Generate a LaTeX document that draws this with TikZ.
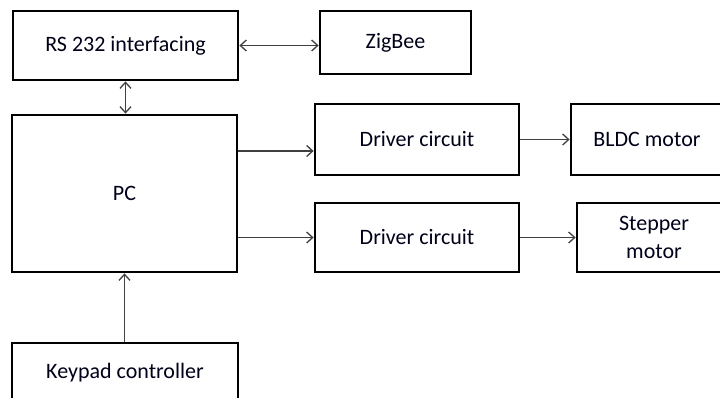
\documentclass[tikz,border=0pt]{standalone}
\usepackage{fontspec}
\setmainfont{Carlito}
\usetikzlibrary{arrows.meta,calc}
\begin{document}
\begin{tikzpicture}[x=1pt,y=-1pt,
  box/.style={draw=black,line width=2.8pt,inner sep=0pt,align=center,
    font=\fontsize{22}{28}\selectfont,text=black!90!blue},
  arr/.style={draw=black!75,line width=1.3pt,-{Straight Barb[length=6pt,width=11pt]}},
  darr/.style={draw=black!75,line width=1.3pt,{Straight Barb[length=6pt,width=11pt]}-{Straight Barb[length=6pt,width=11pt]}}]
\useasboundingbox (0,0) rectangle (720,397);
\begin{scope}
\clip (0,0) rectangle (720,397);
\node[box,minimum width=225pt,minimum height=69pt] (rs) at (125.5,45.5) {RS 232 interfacing};
\node[box,minimum width=151pt,minimum height=63pt] (zig) at (395.5,42.5) {ZigBee};
\node[box,minimum width=225pt,minimum height=157pt] (pc) at (124.5,193.5) {PC};
\node[box,minimum width=226pt,minimum height=60pt] (key) at (125,373) {Keypad controller};
\node[box,minimum width=204pt,minimum height=71pt] (d1) at (417,139.5) {Driver circuit};
\node[box,minimum width=152pt,minimum height=71pt] (bldc) at (647,139.5) {BLDC motor};
\node[box,minimum width=204pt,minimum height=69pt] (d2) at (417,237.5) {Driver circuit};
\node[box,minimum width=154pt,minimum height=69pt] (step) at (654,237.5) {Stepper\\motor};
\end{scope}
\coordinate (a1) at ($(d1.west)+(0,11.5)$);
\draw[darr] (rs.east) -- (zig.west |- rs.east);
\draw[darr] (rs.south) -- (pc.north -| rs.south);
\draw[arr] (pc.east |- a1) -- (a1);
\draw[arr] (d1.east) -- (bldc.west);
\draw[arr] (pc.east |- d2.west) -- (d2.west);
\draw[arr] (d2.east) -- (step.west);
\draw[arr] (key.north -| pc.south) -- (pc.south);
\end{tikzpicture}
\end{document}
